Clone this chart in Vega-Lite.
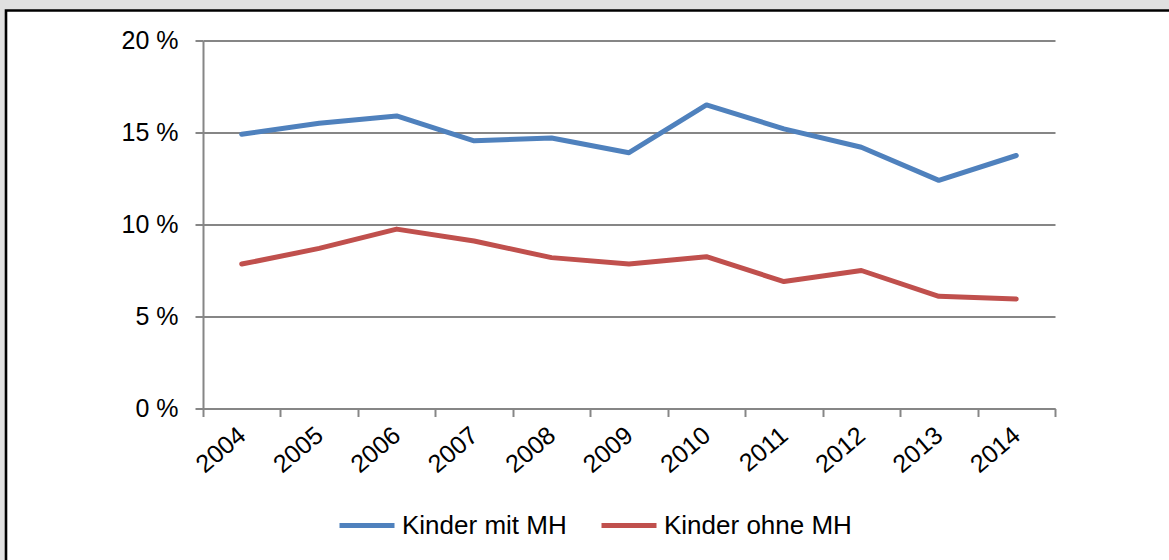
{
  "$schema": "https://vega.github.io/schema/vega-lite/v6.json",
  "width": 1167,
  "height": 553.5,
  "autosize": {"type": "none"},
  "padding": {"left": 6, "top": 10.5, "right": -4, "bottom": -4},
  "background": "#e0e0e0",
  "view": {"fill": "white", "stroke": "black", "strokeWidth": 2.6},
  "config": {
    "font": "Liberation Sans",
    "axis": {"labelFont": "Liberation Sans", "labelColor": "black", "domainColor": "#868686", "domainWidth": 2, "tickColor": "#868686", "tickWidth": 2, "gridColor": "#868686", "gridWidth": 1.8, "gridOpacity": 1},
    "legend": {"labelFont": "Liberation Sans", "labelColor": "black"}
  },
  "data": {
    "values": [
      {"Jahr": "2004", "Gruppe": "Kinder mit MH", "Anteil": 14.9},
      {"Jahr": "2005", "Gruppe": "Kinder mit MH", "Anteil": 15.5},
      {"Jahr": "2006", "Gruppe": "Kinder mit MH", "Anteil": 15.9},
      {"Jahr": "2007", "Gruppe": "Kinder mit MH", "Anteil": 14.55},
      {"Jahr": "2008", "Gruppe": "Kinder mit MH", "Anteil": 14.7},
      {"Jahr": "2009", "Gruppe": "Kinder mit MH", "Anteil": 13.9},
      {"Jahr": "2010", "Gruppe": "Kinder mit MH", "Anteil": 16.5},
      {"Jahr": "2011", "Gruppe": "Kinder mit MH", "Anteil": 15.2},
      {"Jahr": "2012", "Gruppe": "Kinder mit MH", "Anteil": 14.2},
      {"Jahr": "2013", "Gruppe": "Kinder mit MH", "Anteil": 12.4},
      {"Jahr": "2014", "Gruppe": "Kinder mit MH", "Anteil": 13.75},
      {"Jahr": "2004", "Gruppe": "Kinder ohne MH", "Anteil": 7.85},
      {"Jahr": "2005", "Gruppe": "Kinder ohne MH", "Anteil": 8.7},
      {"Jahr": "2006", "Gruppe": "Kinder ohne MH", "Anteil": 9.75},
      {"Jahr": "2007", "Gruppe": "Kinder ohne MH", "Anteil": 9.1},
      {"Jahr": "2008", "Gruppe": "Kinder ohne MH", "Anteil": 8.2},
      {"Jahr": "2009", "Gruppe": "Kinder ohne MH", "Anteil": 7.85},
      {"Jahr": "2010", "Gruppe": "Kinder ohne MH", "Anteil": 8.25},
      {"Jahr": "2011", "Gruppe": "Kinder ohne MH", "Anteil": 6.9},
      {"Jahr": "2012", "Gruppe": "Kinder ohne MH", "Anteil": 7.5},
      {"Jahr": "2013", "Gruppe": "Kinder ohne MH", "Anteil": 6.1},
      {"Jahr": "2014", "Gruppe": "Kinder ohne MH", "Anteil": 5.95}
    ]
  },
  "mark": {"type": "line", "strokeWidth": 5, "strokeCap": "round", "strokeJoin": "round"},
  "encoding": {
    "x": {
      "field": "Jahr",
      "type": "ordinal",
      "scale": {"type": "band", "range": [197, 1049], "paddingInner": 0, "paddingOuter": 0},
      "axis": {
        "title": null,
        "orient": "bottom",
        "offset": -155.5,
        "tickBand": "extent",
        "grid": false,
        "labelAngle": -40,
        "labelAlign": "right",
        "labelBaseline": "middle",
        "labelFontSize": 25,
        "labelPadding": 15,
        "tickSize": 8,
        "labelOverlap": false
      }
    },
    "y": {
      "field": "Anteil",
      "type": "quantitative",
      "scale": {"domain": [0, 20], "range": [398, 30], "nice": false},
      "axis": {
        "title": null,
        "orient": "left",
        "offset": -197,
        "values": [0, 5, 10, 15, 20],
        "labelExpr": "datum.value + ' %'",
        "labelFontSize": 25,
        "labelPadding": 17,
        "tickSize": 8,
        "grid": true
      }
    },
    "color": {
      "field": "Gruppe",
      "type": "nominal",
      "scale": {"domain": ["Kinder mit MH", "Kinder ohne MH"], "range": ["#4F81BD", "#C0504D"]},
      "legend": {
        "title": null,
        "orient": "none",
        "legendX": 331,
        "legendY": 485,
        "direction": "horizontal",
        "symbolType": "stroke",
        "symbolSize": 3025,
        "symbolStrokeWidth": 5,
        "labelFontSize": 26,
        "labelOffset": 5,
        "labelLimit": 0,
        "columnPadding": 24,
        "padding": 0
      }
    }
  }
}
